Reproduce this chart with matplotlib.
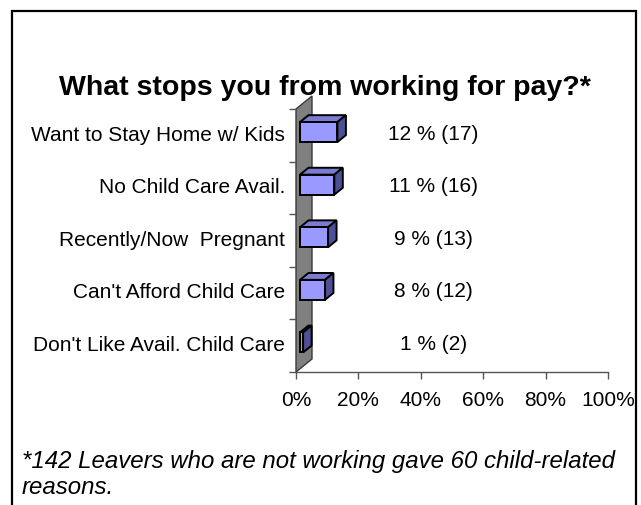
import matplotlib
matplotlib.use("Agg")
import matplotlib.pyplot as plt
from matplotlib.patches import Polygon, Rectangle

plt.rcParams['font.family'] = ['Liberation Sans', 'DejaVu Sans']

# reasons, top to bottom
reasons = ["Want to Stay Home w/ Kids", "No Child Care Avail.", "Recently/Now  Pregnant",
           "Can't Afford Child Care", "Don't Like Avail. Child Care"]
percent = [12, 11, 9, 8, 1]
counts = [17, 16, 13, 12, 2]
xticks = [0, 20, 40, 60, 80, 100]

W, H = 641, 506
fig = plt.figure(figsize=(W / 100, H / 100), dpi=100)
ax = fig.add_axes([296 / W, (H - 373) / H, 312 / W, 263 / H])
ax.set_xlim(0, 100)
ax.set_ylim(0, len(reasons))

# depth of the 3d box, in data units (16 px right, 13 px up)
DX = 16 * 100 / 312
DY = 13 * len(reasons) / 263
d1, d2 = 0.25, 0.78   # bar sits between these depth fractions
bh = 0.38

FRONT = '#9999ff'
TOP = '#7b7bd1'
SIDE = '#4f4f96'

# back wall
wall = Polygon([(0, 0), (0, len(reasons)), (DX, len(reasons) + DY), (DX, DY)],
               closed=True, facecolor='#808080', edgecolor='#3a3a3a', lw=1, clip_on=False, zorder=1)
ax.add_patch(wall)

centers = [len(reasons) - 0.5 - i for i in range(len(reasons))]

for c, v in zip(centers, percent):
    ax.barh(c + d1 * DY, v, left=d1 * DX, height=bh, color=FRONT,
            edgecolor='black', lw=1.4, zorder=3, clip_on=False)
    top = [(d1 * DX, c + bh / 2 + d1 * DY), (v + d1 * DX, c + bh / 2 + d1 * DY),
           (v + d2 * DX, c + bh / 2 + d2 * DY), (d2 * DX, c + bh / 2 + d2 * DY)]
    side = [(v + d1 * DX, c - bh / 2 + d1 * DY), (v + d1 * DX, c + bh / 2 + d1 * DY),
            (v + d2 * DX, c + bh / 2 + d2 * DY), (v + d2 * DX, c - bh / 2 + d2 * DY)]
    ax.add_patch(Polygon(top, closed=True, facecolor=TOP, edgecolor='black', lw=1.4, zorder=2, clip_on=False))
    ax.add_patch(Polygon(side, closed=True, facecolor=SIDE, edgecolor='black', lw=1.4, zorder=2, clip_on=False))

for c, p, n in zip(centers, percent, counts):
    ax.text(44, c + 0.04, f"{p} % ({n})", ha='center', va='center', fontsize=15)

# axes styling
for s in ['top', 'right', 'left']:
    ax.spines[s].set_visible(False)
ax.spines['bottom'].set_color('#555555')
ax.spines['bottom'].set_linewidth(1)
ax.spines['bottom'].set_zorder(0)

ax.set_xticks(xticks)
ax.set_xticklabels([f"{t}%" for t in xticks], fontsize=15)
ax.tick_params(axis='x', length=5, width=1, color='#555555', pad=8)

ax.set_yticks(range(len(reasons) + 1))
ax.set_yticklabels([])
ax.tick_params(axis='y', which='major', length=5, width=1, color='#555555')
# category names sit a touch above the row middle
ax.set_yticks([c + 0.06 for c in centers], minor=True)
ax.set_yticklabels(reasons, minor=True, fontsize=15)
ax.tick_params(axis='y', which='minor', length=0, pad=8)

fig.text(325 / W, 1 - 88 / H, "What stops you from working for pay?*",
         ha='center', va='center', fontsize=20.5, fontweight='bold')
fig.text(22 / W, 1 - 462 / H, "*142 Leavers who are not working gave 60 child-related",
         ha='left', va='center', fontsize=17.3, style='italic')
fig.text(22 / W, 1 - 488 / H, "reasons.", ha='left', va='center', fontsize=17.3, style='italic')

# slide frame
fig.add_artist(Rectangle((12 / W, -0.1), (636 - 12) / W, (H - 12) / H + 0.1,
                         transform=fig.transFigure, fill=False, lw=1.6, ec='black'))

fig.savefig("out.png", dpi=100)
